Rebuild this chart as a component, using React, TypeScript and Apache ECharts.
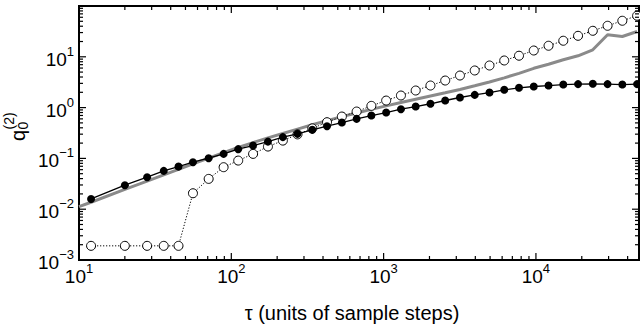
import React, { useEffect, useRef } from 'react';
import * as echarts from 'echarts';

// ---- data ----
const tau = [12, 20, 28, 36, 45, 56, 71, 89, 111, 139, 174, 218, 272, 340, 425, 532, 665, 831, 1039, 1299,
  1624, 2030, 2537, 3171, 3964, 4955, 6194, 7742, 9678, 12097, 15121, 18902, 23627, 29534, 36917, 46146];

const filledQ = [0.0159, 0.0297, 0.0427, 0.0568, 0.069, 0.0841, 0.101, 0.1227, 0.152, 0.179, 0.214, 0.262,
  0.304, 0.365, 0.431, 0.508, 0.6, 0.697, 0.798, 0.931, 1.05, 1.19, 1.38, 1.58, 1.78, 1.98, 2.24, 2.45, 2.6,
  2.72, 2.84, 2.9, 2.94, 2.9, 2.84, 2.9];

const openQ = [0.0019, 0.0019, 0.0019, 0.0019, 0.0019, 0.0206, 0.0395, 0.0671, 0.0906, 0.1227, 0.171, 0.224,
  0.297, 0.39, 0.516, 0.667, 0.836, 1.082, 1.376, 1.73, 2.17, 2.72, 3.41, 4.28, 5.38, 6.74, 8.46, 10.5, 13.3,
  16.5, 20.7, 25.9, 32.5, 40.8, 51.2, 64.3];

const grayTau = [10, 12, 20, 28, 36, 45, 56, 71, 89, 111, 139, 174, 218, 272, 340, 425, 532, 665, 831, 1039,
  1299, 1624, 2030, 2537, 3171, 3964, 4955, 6194, 7742, 9678, 12097, 15121, 18902, 23627, 29534, 36917, 46146];

const grayQ = [0.01122, 0.01371, 0.02449, 0.0357, 0.04731, 0.06071, 0.07793, 0.1009, 0.1295, 0.164, 0.2048,
  0.2535, 0.3095, 0.3778, 0.4593, 0.5532, 0.6633, 0.7844, 0.9237, 1.083, 1.257, 1.46, 1.689, 1.953, 2.279,
  2.683, 3.187, 3.857, 4.731, 5.934, 7.116, 8.728, 10.46, 13.74, 27.13, 25.12, 31.51];

const xDecades = [10, 100, 1000, 10000];
const yDecades = [0.001, 0.01, 0.1, 1, 10, 100];
const minorMultipliers = [2, 3, 4, 5, 6, 7, 8, 9];

const X_MIN = 10;
const X_MAX = 47500;
const Y_MIN = 0.001;
const Y_MAX = 100;

const xTitle = 'τ (units of sample steps)';

const FONT = '"Liberation Sans", Arial, Helvetica, sans-serif';

function buildTicks(decades: number[], lo: number, hi: number) {
  const out: number[][] = [];
  decades.forEach((d) => {
    if (d >= lo * 0.9999 && d <= hi * 1.0001) out.push([d, 1]);
    minorMultipliers.forEach((m) => {
      const v = d * m;
      if (v > lo && v < hi) out.push([v, 0]);
    });
  });
  return out;
}

function decadeLabel(v: number, skipTop: number | null) {
  const lg = Math.log10(v);
  const e = Math.round(lg);
  if (Math.abs(lg - e) > 1e-6) return '';
  if (skipTop !== null && e === skipTop) return '';
  const s = e < 0 ? '\u2212' + (-e) : String(e);
  return '{b|10}{s|' + s + '}';
}

const richLabel = {
  b: { fontSize: 19, fontFamily: FONT, color: '#000', lineHeight: 24, verticalAlign: 'bottom' },
  s: { fontSize: 13, fontFamily: FONT, color: '#000', lineHeight: 14, verticalAlign: 'top' },
};

export default function App() {
  const ref = useRef<HTMLDivElement>(null);
  useEffect(() => {
    if (!ref.current) return;
    const chart = echarts.init(ref.current, null, { renderer: 'svg' });
    const xTicks = buildTicks(xDecades, X_MIN, X_MAX).map((t) => [t[0], 1, t[1]]);
    const yTicks = buildTicks(yDecades, Y_MIN, Y_MAX).map((t) => [100, t[0], t[1]]);
    const tickStyle = { stroke: '#000', lineWidth: 1.2 };

    const option: any = {
      animation: false,
      backgroundColor: '#fff',
      grid: {
        left: 79, right: 1, top: 6, bottom: 66,
        show: true, borderColor: '#000', borderWidth: 2, backgroundColor: 'transparent',
      },
      xAxis: {
        type: 'log', logBase: 10, min: X_MIN, max: X_MAX,
        axisLine: { show: false }, axisTick: { show: false }, splitLine: { show: false },
        axisLabel: {
          margin: 2, showMaxLabel: false,
          formatter: (v: number) => decadeLabel(v, null),
          rich: richLabel,
        },
      },
      yAxis: {
        type: 'log', logBase: 10, min: Y_MIN, max: Y_MAX,
        axisLine: { show: false }, axisTick: { show: false }, splitLine: { show: false },
        axisLabel: {
          margin: 5, showMaxLabel: false,
          formatter: (v: number) => decadeLabel(v, 2),
          rich: richLabel,
        },
      },
      series: [
        {
          type: 'line', name: 'gray', data: grayTau.map((t, i) => [t, grayQ[i]]),
          showSymbol: false, symbol: 'none',
          lineStyle: { color: '#8a8a8a', width: 3 }, z: 2,
        },
        {
          type: 'line', name: 'open', data: tau.map((t, i) => [t, openQ[i]]),
          symbol: 'circle', symbolSize: 9,
          itemStyle: { color: '#fff', borderColor: '#000', borderWidth: 1 },
          lineStyle: { color: '#000', width: 1, type: [1.2, 1.8] }, z: 3,
        },
        {
          type: 'line', name: 'filled', data: tau.map((t, i) => [t, filledQ[i]]),
          symbol: 'circle', symbolSize: 8,
          itemStyle: { color: '#000' },
          lineStyle: { color: '#000', width: 1.3 }, z: 4,
        },
        {
          type: 'custom', silent: true, clip: false, z: 6,
          encode: { x: 0, y: 1 },
          data: xTicks,
          renderItem: (params: any, api: any) => {
            const v = api.value(0);
            const major = api.value(2) === 1;
            const pt = api.coord([v, 1]);
            const cs = params.coordSys;
            const len = major ? 7 : 4;
            const top = cs.y;
            const bottom = cs.y + cs.height;
            return {
              type: 'group',
              children: [
                { type: 'line', shape: { x1: pt[0], y1: bottom, x2: pt[0], y2: bottom - len }, style: tickStyle },
                { type: 'line', shape: { x1: pt[0], y1: top, x2: pt[0], y2: top + len }, style: tickStyle },
              ],
            };
          },
        },
        {
          type: 'custom', silent: true, clip: false, z: 6,
          encode: { x: 0, y: 1 },
          data: yTicks,
          renderItem: (params: any, api: any) => {
            const v = api.value(1);
            const major = api.value(2) === 1;
            const pt = api.coord([100, v]);
            const cs = params.coordSys;
            const len = major ? 7 : 4;
            const left = cs.x;
            const right = cs.x + cs.width;
            return {
              type: 'group',
              children: [
                { type: 'line', shape: { x1: left, y1: pt[1], x2: left + len, y2: pt[1] }, style: tickStyle },
                { type: 'line', shape: { x1: right, y1: pt[1], x2: right - len, y2: pt[1] }, style: tickStyle },
              ],
            };
          },
        },
      ],
      graphic: [
        {
          type: 'text', x: 352, y: 313,
          style: {
            text: xTitle, font: '20px ' + FONT, fill: '#000',
            textAlign: 'center', align: 'center', textVerticalAlign: 'middle', verticalAlign: 'middle',
          },
        },
        {
          type: 'group', x: 18, y: 141, rotation: Math.PI / 2,
          children: [
            { type: 'text', x: 0, y: 0, style: { text: 'q', font: '20px ' + FONT, fill: '#000', align: 'left', textAlign: 'left', verticalAlign: 'middle', textVerticalAlign: 'middle' } },
            { type: 'text', x: 11.5, y: 5, style: { text: '0', font: '14px ' + FONT, fill: '#000', align: 'left', textAlign: 'left', verticalAlign: 'middle', textVerticalAlign: 'middle' } },
            { type: 'text', x: 11.5, y: -9, style: { text: '(2)', font: '14px ' + FONT, fill: '#000', align: 'left', textAlign: 'left', verticalAlign: 'middle', textVerticalAlign: 'middle' } },
          ],
        },
      ],
    };
    chart.setOption(option);
    return () => chart.dispose();
  }, []);
  return <div ref={ref} style={{ position: 'fixed', left: 0, top: 0, width: 640, height: 326 }} />;
}
